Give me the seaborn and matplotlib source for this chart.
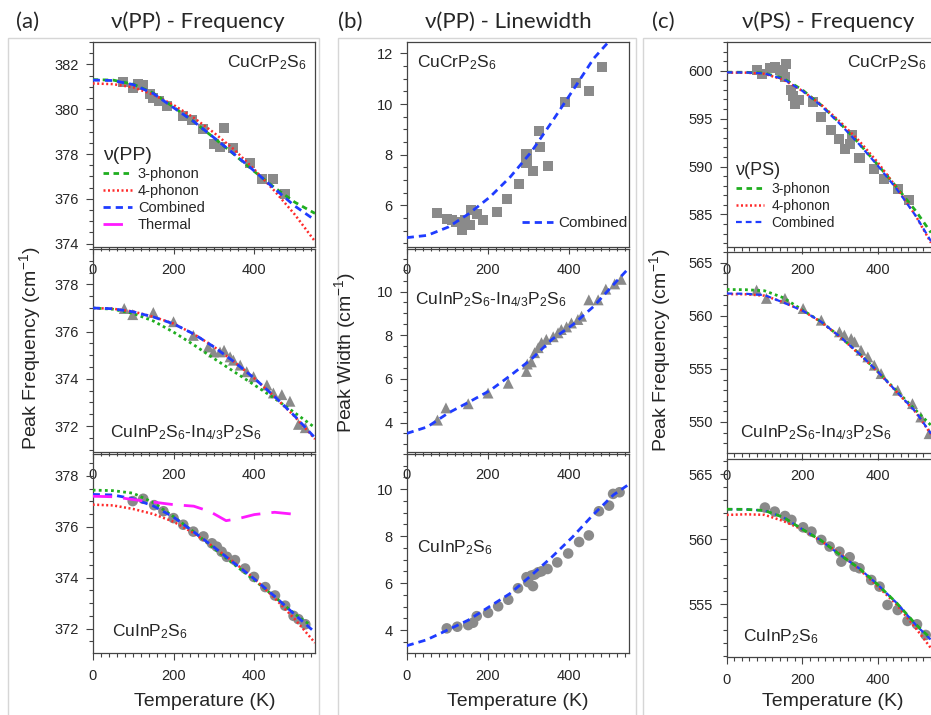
import numpy as np
import pandas as pd
import matplotlib
matplotlib.use("Agg")
import matplotlib.pyplot as plt
import seaborn as sns
from matplotlib.ticker import MultipleLocator
from matplotlib.patches import Rectangle

# ---------------- data: panel (a) nu(PP) frequency ----------------
a1_T = [76, 99, 113, 125, 142, 150, 163, 183, 223, 245, 274, 325, 299, 315, 348, 388, 418, 447, 476]
a1_v = [381.21, 380.93, 381.14, 381.10, 380.66, 380.48, 380.36, 380.14, 379.70, 379.50, 379.10, 379.17,
        378.43, 378.31, 378.28, 377.58, 376.87, 376.87, 376.20]
a_fitT = [0, 50, 100, 150, 200, 250, 300, 350, 400, 450, 500, 550]
a1_green = [381.32, 381.30, 381.12, 380.72, 380.10, 379.45, 378.72, 377.98, 377.22, 376.50, 375.85, 375.35]
a1_red = [381.15, 381.12, 380.98, 380.65, 380.19, 379.62, 378.95, 378.20, 377.31, 376.35, 375.30, 374.10]
a1_blue = [381.30, 381.28, 381.10, 380.70, 380.07, 379.45, 378.73, 378.00, 377.24, 376.45, 375.68, 375.05]

a2_T = [78, 99, 150, 200, 249, 286, 299, 315, 325, 340, 348, 365, 381, 398, 431, 447, 468, 488, 509, 526]
a2_v = [376.98, 376.72, 376.81, 376.42, 375.84, 375.35, 375.14, 375.14, 375.21, 374.93, 374.79, 374.58,
        374.30, 374.09, 373.74, 373.40, 373.33, 373.05, 372.07, 371.93]
a2_green = [377.00, 376.95, 376.77, 376.45, 375.98, 375.44, 374.86, 374.30, 373.74, 373.17, 372.56, 371.93]
a2_red = [377.00, 376.97, 376.85, 376.63, 376.34, 375.90, 375.36, 374.72, 374.02, 373.24, 372.40, 371.45]
a2_blue = [377.00, 376.97, 376.84, 376.62, 376.33, 375.90, 375.35, 374.72, 374.02, 373.25, 372.42, 371.50]

a3_T = [99, 125, 152, 175, 200, 224, 249, 274, 295, 307, 319, 332, 352, 377, 399, 427, 451, 476, 497, 509, 526]
a3_v = [377.01, 377.10, 376.85, 376.61, 376.34, 376.08, 375.81, 375.62, 375.35, 375.22, 375.02, 374.82,
        374.69, 374.36, 374.03, 373.63, 373.30, 372.90, 372.50, 372.37, 372.17]
a3_greenT = [0, 50, 100, 150, 200, 250, 300, 350, 400, 450, 500, 540]
a3_green = [377.44, 377.42, 377.32, 376.95, 376.40, 375.80, 375.15, 374.52, 373.90, 373.25, 372.57, 372.12]
a3_red = [376.87, 376.84, 376.70, 376.50, 376.20, 375.75, 375.20, 374.60, 373.96, 373.20, 372.37, 371.44]
a3_blue = [377.27, 377.25, 377.10, 376.82, 376.38, 375.80, 375.20, 374.57, 373.95, 373.27, 372.55, 371.85]
a3_thermT = [0, 50, 100, 150, 200, 250, 290, 330, 360, 400, 450, 500]
a3_therm = [377.20, 377.18, 377.07, 376.97, 376.87, 376.81, 376.60, 376.24, 376.32, 376.48, 376.57, 376.49]

# ---------------- data: panel (b) nu(PP) linewidth ----------------
b1_T = [76, 99, 111, 123, 136, 145, 156, 160, 173, 189, 224, 249, 277, 296, 296, 312, 327, 329, 349, 390, 419, 450, 483]
b1_w = [5.71, 5.47, 5.41, 5.34, 5.04, 5.41, 5.21, 5.80, 5.67, 5.43, 5.74, 6.26, 6.82, 7.65, 8.02, 7.36,
        8.93, 8.31, 7.54, 10.06, 10.84, 10.52, 11.47]
b1_fitT = [0, 51, 103, 154, 206, 256, 308, 359, 411, 462, 503]
b1_fit = [4.72, 4.81, 5.14, 5.67, 6.33, 7.12, 8.11, 9.30, 10.55, 11.80, 12.53]

b2_T = [76, 97, 152, 201, 251, 296, 298, 308, 316, 325, 333, 345, 362, 374, 382, 395, 407, 423, 432, 450, 473, 492, 514, 530]
b2_w = [4.11, 4.67, 4.86, 5.35, 5.80, 6.34, 6.68, 6.78, 7.20, 7.43, 7.66, 7.81, 7.93, 8.11, 8.26, 8.38,
        8.56, 8.72, 8.87, 9.62, 9.62, 10.11, 10.35, 10.56]
b2_fitT = [0, 51, 103, 154, 206, 256, 308, 359, 411, 462, 514, 550]
b2_fit = [3.50, 3.80, 4.44, 4.94, 5.47, 6.15, 6.90, 7.81, 8.49, 9.32, 10.38, 11.10]

b3_T = [99, 125, 152, 164, 173, 201, 226, 251, 275, 296, 300, 308, 316, 312, 325, 333, 348, 372, 399, 426, 450, 475, 500, 510, 526]
b3_w = [4.07, 4.14, 4.21, 4.31, 4.59, 4.73, 5.01, 5.29, 5.78, 6.25, 6.04, 6.32, 6.36, 5.87, 6.46, 6.50,
        6.60, 6.88, 7.26, 7.75, 8.03, 9.06, 9.30, 9.80, 9.87]
b3_fitT = [0, 49, 101, 152, 203, 255, 306, 358, 409, 460, 511, 550]
b3_fit = [3.33, 3.58, 4.00, 4.42, 4.98, 5.55, 6.30, 7.10, 7.95, 8.90, 9.76, 10.22]

# ---------------- data: panel (c) nu(PS) frequency ----------------
c1_T = [79, 94, 114, 127, 140, 149, 158, 154, 169, 175, 180, 190, 228, 250, 275, 298, 313, 327, 332, 351, 390, 415, 452, 482]
c1_v = [600.07, 599.65, 600.28, 600.42, 600.07, 599.65, 600.70, 599.30, 597.98, 597.38, 596.58, 596.93,
        596.69, 595.19, 593.79, 592.85, 591.80, 592.33, 593.30, 590.93, 589.71, 588.66, 587.62, 586.47]
c_fitT = [0, 50, 100, 150, 200, 250, 300, 350, 400, 450, 500, 540]
c1_green = [599.85, 599.84, 599.75, 599.20, 598.00, 596.40, 594.50, 592.40, 590.15, 587.80, 585.35, 583.10]
c1_red = [599.80, 599.80, 599.68, 599.05, 597.90, 596.45, 594.66, 592.68, 590.40, 587.75, 584.83, 582.04]
c1_blue = [599.83, 599.82, 599.72, 599.13, 597.90, 596.34, 594.42, 592.33, 590.06, 587.62, 584.83, 582.20]

c2_T = [79, 105, 154, 202, 250, 298, 311, 329, 338, 355, 373, 390, 408, 452, 491, 513, 535]
c2_v = [562.42, 561.64, 561.64, 560.69, 559.59, 558.49, 558.18, 557.86, 557.55, 556.76, 556.13, 555.35,
        554.56, 552.99, 551.73, 550.47, 548.90]
c2_green = [562.48, 562.46, 562.36, 561.70, 560.55, 559.43, 558.02, 556.45, 554.72, 552.90, 551.10, 549.69]
c2_red = [562.05, 562.03, 561.90, 561.28, 560.50, 559.40, 558.00, 556.40, 554.70, 552.80, 550.90, 548.85]
c2_blue = [562.10, 562.08, 561.95, 561.25, 560.50, 559.43, 558.02, 556.45, 554.72, 552.83, 550.94, 548.90]

c3_T = [101, 127, 154, 171, 202, 224, 250, 272, 298, 303, 325, 338, 351, 382, 404, 425, 452, 478, 503, 526]
c3_v = [562.44, 562.13, 561.79, 561.49, 560.92, 560.59, 559.95, 559.44, 559.05, 558.28, 558.62, 557.90,
        557.77, 556.87, 556.36, 554.95, 554.56, 553.72, 553.46, 552.64]
c3_green = [562.31, 562.30, 562.21, 561.69, 560.77, 559.90, 558.79, 557.77, 556.49, 555.08, 553.45, 552.35]
c3_red = [561.87, 561.92, 561.88, 561.40, 560.75, 559.85, 558.90, 557.70, 556.36, 554.95, 553.15, 551.62]
c3_blue = [562.31, 562.30, 562.21, 561.69, 560.77, 559.90, 558.79, 557.77, 556.49, 555.08, 553.41, 552.26]

# ---------------- style ----------------
sns.set_style("ticks")
plt.rcParams["font.family"] = ["Liberation Sans", "DejaVu Sans"]
plt.rcParams["mathtext.fontset"] = "custom"
plt.rcParams["mathtext.rm"] = "Liberation Sans"
plt.rcParams["mathtext.it"] = "Liberation Sans:italic"
plt.rcParams["mathtext.bf"] = "Liberation Sans:bold"

GRAY = "#8a8a8a"
GREEN = "#1fae1f"
RED = "#ff2a2a"
BLUE = "#1f3cff"
MAG = "#ff1aff"
SPINE = "#444444"

W, H = 931, 715
fig = plt.figure(figsize=(W / 100, H / 100), dpi=100)
fig.patch.set_facecolor("white")

# light gray panel frames
for (x0, x1) in [(8, 319), (338, 636), (643, 940)]:
    fig.add_artist(Rectangle((x0 / W, -0.01), (x1 - x0) / W, 1 - 38 / H + 0.01,
                             transform=fig.transFigure, fill=False,
                             edgecolor="#d6d6d6", lw=1.0, zorder=0))


def add_ax(x0, x1, y0, y1):
    ax = fig.add_axes([x0 / W, 1 - y1 / H, (x1 - x0) / W, (y1 - y0) / H])
    ax.set_facecolor("none")
    for s in ax.spines.values():
        s.set_color(SPINE)
        s.set_linewidth(0.9)
    ax.tick_params(which="both", direction="out", top=False, right=False,
                   color=SPINE, width=0.8)
    ax.tick_params(which="major", length=5, labelsize=10.5)
    ax.tick_params(which="minor", length=2.6)
    ax.tick_params(axis="x", which="major", pad=6.5)
    ax.tick_params(axis="y", which="major", pad=5)
    ax.xaxis.set_major_locator(MultipleLocator(200))
    ax.xaxis.set_minor_locator(MultipleLocator(20))
    return ax


def pts(ax, x, y, marker, s):
    sns.scatterplot(x=x, y=y, ax=ax, marker=marker, s=s, color=GRAY,
                    edgecolor="none", linewidth=0, legend=False, zorder=2)


def line(ax, x, y, color, ls, lw, label=None):
    sns.lineplot(x=x, y=y, ax=ax, color=color, linestyle=ls, linewidth=lw,
                 sort=False, estimator=None, legend=False, label=label, zorder=3)
    return ax.lines[-1]


GDASH = (0, (2.0, 1.6))
GDOT = (0, (1.0, 1.2))
RDOT = (0, (0.8, 1.0))
BDASH = (0, (2.6, 1.8))

# ---------------- panel (a) ----------------
ax = add_ax(92.7, 315, 42, 247)
pts(ax, a1_T, a1_v, "s", 52)
g = line(ax, a_fitT, a1_green, GREEN, GDASH, 2.0, "3-phonon")
r = line(ax, a_fitT, a1_red, RED, RDOT, 1.8, "4-phonon")
b = line(ax, a_fitT, a1_blue, BLUE, BDASH, 2.0, "Combined")
ax.set_xlim(0, 550)
ax.set_ylim(373.85, 383.0)
ax.yaxis.set_major_locator(MultipleLocator(2))
ax.yaxis.set_minor_locator(MultipleLocator(0.5))
ax.text(0.96, 0.9, r"CuCrP$_2$S$_6$", transform=ax.transAxes, ha="right", va="center", fontsize=12.5)
ax_a1 = ax

ax = add_ax(92.7, 315, 249, 452)
pts(ax, a2_T, a2_v, "^", 62)
line(ax, a_fitT, a2_green, GREEN, GDOT, 2.0)
line(ax, a_fitT, a2_red, RED, RDOT, 1.8)
line(ax, a_fitT, a2_blue, BLUE, BDASH, 2.0)
ax.set_xlim(0, 550)
ax.set_ylim(370.9, 379.5)
ax.yaxis.set_major_locator(MultipleLocator(2))
ax.yaxis.set_minor_locator(MultipleLocator(0.5))
ax.text(0.078, 0.094, r"CuInP$_2$S$_6$-In$_{4/3}$P$_2$S$_6$", transform=ax.transAxes,
        ha="left", va="center", fontsize=12.5)

ax = add_ax(92.7, 315, 454, 653)
pts(ax, a3_T, a3_v, "o", 58)
line(ax, a3_greenT, a3_green, GREEN, GDOT, 2.0)
line(ax, a_fitT, a3_red, RED, RDOT, 1.8)
line(ax, a_fitT, a3_blue, BLUE, BDASH, 2.0)
m = line(ax, a3_thermT, a3_therm, MAG, (0, (7, 4)), 2.0, "Thermal")
ax.set_xlim(0, 550)
ax.set_ylim(371.04, 378.86)
ax.yaxis.set_major_locator(MultipleLocator(2))
ax.yaxis.set_minor_locator(MultipleLocator(0.5))
ax.text(0.087, 0.105, r"CuInP$_2$S$_6$", transform=ax.transAxes, ha="left", va="center", fontsize=12.5)

leg = ax_a1.legend(handles=[g, r, b, m], labels=["3-phonon", "4-phonon", "Combined", "Thermal"],
                   title="ν(PP)", loc="upper left", bbox_to_anchor=(0.0, 0.54), frameon=False,
                   fontsize=10.5, title_fontsize=14, alignment="left", handlelength=2.0,
                   handletextpad=0.4, labelspacing=0.22, borderpad=0.2)

fig.text(30 / W, 1 - 348 / H, "Peak Frequency (cm$^{-1}$)", rotation=90, ha="center", va="center", fontsize=14)
fig.text(205 / W, 1 - 701 / H, "Temperature (K)", ha="center", va="center", fontsize=14)

# ---------------- panel (b) ----------------
ax = add_ax(406.7, 629.3, 42, 247)
pts(ax, b1_T, b1_w, "s", 52)
bb = line(ax, b1_fitT, b1_fit, BLUE, BDASH, 2.0, "Combined")
ax.set_xlim(0, 550)
ax.set_ylim(4.35, 12.45)
ax.yaxis.set_major_locator(MultipleLocator(2))
ax.yaxis.set_minor_locator(MultipleLocator(0.5))
ax.text(0.046, 0.9, r"CuCrP$_2$S$_6$", transform=ax.transAxes, ha="left", va="center", fontsize=12.5)
ax.legend(handles=[bb], labels=["Combined"], loc="lower left", bbox_to_anchor=(0.47, 0.03),
          frameon=False, fontsize=11, handlelength=2.0, handletextpad=0.4, borderpad=0.2)

ax = add_ax(406.7, 629.3, 249, 452)
pts(ax, b2_T, b2_w, "^", 62)
line(ax, b2_fitT, b2_fit, BLUE, BDASH, 2.0)
ax.set_xlim(0, 550)
ax.set_ylim(2.65, 11.95)
ax.yaxis.set_major_locator(MultipleLocator(2))
ax.yaxis.set_minor_locator(MultipleLocator(0.5))
ax.text(0.037, 0.75, r"CuInP$_2$S$_6$-In$_{4/3}$P$_2$S$_6$", transform=ax.transAxes,
        ha="left", va="center", fontsize=12.5)

ax = add_ax(406.7, 629.3, 454, 653)
pts(ax, b3_T, b3_w, "o", 58)
line(ax, b3_fitT, b3_fit, BLUE, BDASH, 2.0)
ax.set_xlim(0, 550)
ax.set_ylim(3.02, 11.5)
ax.yaxis.set_major_locator(MultipleLocator(2))
ax.yaxis.set_minor_locator(MultipleLocator(0.5))
ax.text(0.046, 0.528, r"CuInP$_2$S$_6$", transform=ax.transAxes, ha="left", va="center", fontsize=12.5)

fig.text(345 / W, 1 - 352 / H, "Peak Width (cm$^{-1}$)", rotation=90, ha="center", va="center", fontsize=14)
fig.text(518 / W, 1 - 701 / H, "Temperature (K)", ha="center", va="center", fontsize=14)

# ---------------- panel (c) ----------------
ax = add_ax(726.7, 931, 42, 247)
ax.spines["right"].set_visible(False)
pts(ax, c1_T, c1_v, "s", 52)
cg = line(ax, c_fitT, c1_green, GREEN, GDASH, 2.0, "3-phonon")
cr = line(ax, c_fitT, c1_red, RED, RDOT, 1.8, "4-phonon")
cb = line(ax, c_fitT, c1_blue, BLUE, BDASH, 1.6, "Combined")
ax.set_xlim(0, 540)
ax.set_ylim(581.6, 603.0)
ax.yaxis.set_major_locator(MultipleLocator(5))
ax.yaxis.set_minor_locator(MultipleLocator(1))
ax.text(0.98, 0.9, r"CuCrP$_2$S$_6$", transform=ax.transAxes, ha="right", va="center", fontsize=12.5)
ax.legend(handles=[cg, cr, cb], labels=["3-phonon", "4-phonon", "Combined"], title="ν(PS)",
          loc="upper left", bbox_to_anchor=(0.0, 0.46), frameon=False, fontsize=10,
          title_fontsize=13, alignment="left", handlelength=2.0, handletextpad=0.5,
          labelspacing=0.2, borderpad=0.2)

ax = add_ax(726.7, 931, 251.7, 453.3)
ax.spines["right"].set_visible(False)
pts(ax, c2_T, c2_v, "^", 62)
line(ax, c_fitT, c2_green, GREEN, GDOT, 2.0)
line(ax, c_fitT, c2_red, RED, RDOT, 1.8)
line(ax, c_fitT, c2_blue, BLUE, BDASH, 1.6)
ax.set_xlim(0, 540)
ax.set_ylim(547.05, 566.04)
ax.yaxis.set_major_locator(MultipleLocator(5))
ax.yaxis.set_minor_locator(MultipleLocator(1))
ax.text(0.065, 0.1, r"CuInP$_2$S$_6$-In$_{4/3}$P$_2$S$_6$", transform=ax.transAxes,
        ha="left", va="center", fontsize=12.5)

ax = add_ax(726.7, 931, 459.3, 656.7)
ax.spines["right"].set_visible(False)
pts(ax, c3_T, c3_v, "o", 58)
line(ax, c_fitT, c3_red, RED, RDOT, 1.8)
line(ax, c_fitT, c3_blue, BLUE, BDASH, 1.6)
line(ax, c_fitT, c3_green, GREEN, GDASH, 2.0)
ax.set_xlim(0, 540)
ax.set_ylim(550.97, 566.15)
ax.yaxis.set_major_locator(MultipleLocator(5))
ax.yaxis.set_minor_locator(MultipleLocator(1))
ax.text(0.08, 0.1, r"CuInP$_2$S$_6$", transform=ax.transAxes, ha="left", va="center", fontsize=12.5)

fig.text(660 / W, 1 - 350 / H, "Peak Frequency (cm$^{-1}$)", rotation=90, ha="center", va="center", fontsize=14)
fig.text(833 / W, 1 - 701 / H, "Temperature (K)", ha="center", va="center", fontsize=14)

# ---------------- panel titles ----------------
TF = ["Lato", "Open Sans", "DejaVu Sans"]
for x, t in [(28, "(a)"), (350, "(b)"), (663, "(c)")]:
    fig.text(x / W, 1 - 22 / H, t, ha="center", va="center", fontsize=16, family=TF)
for x, t in [(198, "ν(PP) - Frequency"), (508, "ν(PP) - Linewidth"), (828, "ν(PS) - Frequency")]:
    fig.text(x / W, 1 - 22 / H, t, ha="center", va="center", fontsize=16, family=TF)

fig.savefig("out.png", dpi=100)
